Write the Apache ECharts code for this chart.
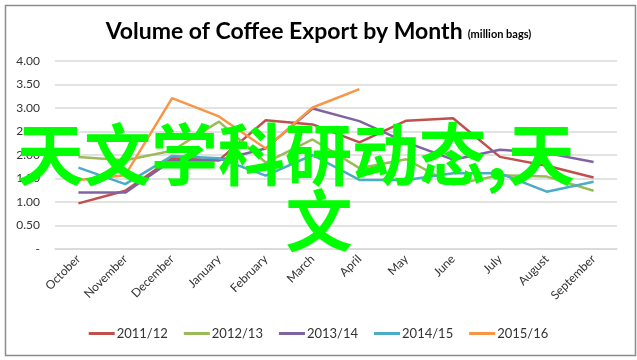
<!DOCTYPE html>
<html>
<head>
<meta charset="utf-8">
<script src="https://cdn.jsdelivr.net/npm/echarts@6/dist/echarts.min.js"></script>
<style>
html,body{margin:0;padding:0;background:#fff;}
#c{width:637px;height:360px;}
</style>
</head>
<body>
<div id="c"></div>
<script>
var months = ['October','November','December','January','February','March','April','May','June','July','August','September'];
var seriesNames = ['2011/12','2012/13','2013/14','2014/15','2015/16'];
var s2011 = [0.97,1.24,1.93,1.89,2.74,2.65,2.27,2.73,2.78,1.96,1.77,1.52];
var s2012 = [1.96,1.89,2.09,2.71,1.84,2.33,1.72,1.91,1.37,1.57,1.54,1.24];
var s2013 = [1.20,1.20,1.89,1.89,2.14,2.99,2.72,2.27,1.90,2.11,2.04,1.85];
var s2014 = [1.73,1.38,1.98,1.93,1.56,2.00,1.47,1.47,1.61,1.61,1.22,1.43];
var s2015 = [1.47,1.57,3.21,2.82,2.14,3.01,3.40,null,null,null,null,null];
var colors = ['#C0504D','#9BBB59','#8064A2','#4BACC6','#F79646'];
var overlayLine1 = '天文学科研动态,天';
var overlayLine2 = '文';

var allData = [s2011,s2012,s2013,s2014,s2015];
var chart = echarts.init(document.getElementById('c'));
var series = seriesNames.map(function(n,i){
  return {name:n,type:'line',data:allData[i],symbol:'none',
    lineStyle:{width:2.5,color:colors[i]},itemStyle:{color:colors[i]},
    connectNulls:false};
});
chart.setOption({
  animation:false,
  backgroundColor:'#fff',
  title:{
    text:'{a|Volume of Coffee Export by Month} {b|(million bags)}',
    left:'center', top:15,
    textStyle:{rich:{
      a:{fontFamily:'Lato',fontWeight:'bold',fontSize:23,color:'#000'},
      b:{fontFamily:'Lato',fontWeight:'bold',fontSize:11,color:'#000',padding:[5,0,0,0]}
    }}
  },
  grid:{left:55,right:20,top:61,bottom:111},
  xAxis:{type:'category',data:months,boundaryGap:true,
    axisTick:{show:false},
    axisLine:{lineStyle:{color:'#d9d9d9',width:1.5}},
    axisLabel:{rotate:45,interval:0,color:'#333',fontFamily:'Lato',fontSize:12,margin:8}},
  yAxis:{type:'value',min:0,max:4,interval:0.5,
    axisLine:{show:false},axisTick:{show:false},
    splitLine:{lineStyle:{color:'#d9d9d9',width:1.5}},
    axisLabel:{color:'#333',fontFamily:'Lato',fontSize:12,margin:15,
      formatter:function(v){return v===0?'-':v.toFixed(2);}}},
  legend:{data:seriesNames,bottom:15,left:'center',icon:'rect',itemWidth:26,itemHeight:3,itemGap:16,
    textStyle:{color:'#333',fontFamily:'Lato',fontSize:13,padding:[0,0,0,-3]}},
  series:series,
  graphic:[
    {type:'rect',left:3,top:3,shape:{width:630,height:350},style:{fill:'none',stroke:'#8c8c8c',lineWidth:1.5},z:0,silent:true},
    {type:'text',x:17,y:155,z:100,style:{text:overlayLine1,fill:'#00FF00',fontFamily:'Noto Sans CJK SC',fontWeight:'bold',fontSize:67,textVerticalAlign:'middle',textAlign:'left'}},
    {type:'text',x:319,y:221,z:100,style:{text:overlayLine2,fill:'#00FF00',fontFamily:'Noto Sans CJK SC',fontWeight:'bold',fontSize:67,textVerticalAlign:'middle',textAlign:'center'}}
  ]
});
</script>
</body>
</html>
